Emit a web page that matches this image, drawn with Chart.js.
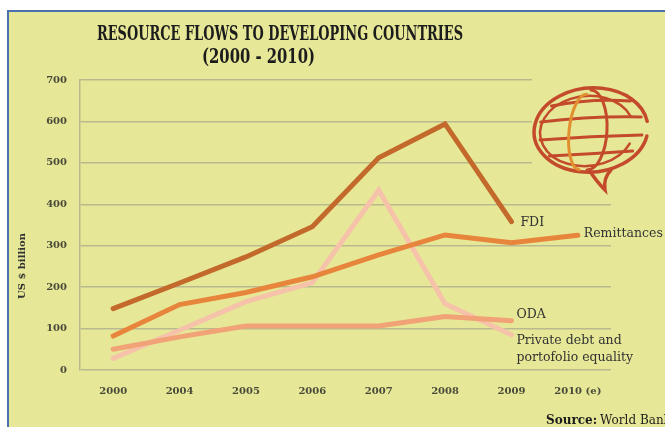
<!DOCTYPE html>
<html>
<head>
<meta charset="utf-8">
<script src="https://cdn.jsdelivr.net/npm/chart.js@4/dist/chart.umd.min.js"></script>
<style>
  html, body { margin: 0; padding: 0; background: #fff; }
  #wrap { width: 665px; height: 427px; }
</style>
</head>
<body>
<div id="wrap"><canvas id="flows"></canvas></div>
<script>
var years = ['2000', '2004', '2005', '2006', '2007', '2008', '2009', '2010 (e)']
var fdi = [148, 210, 273, 346, 512, 594, 358, null]
var remittances = [82, 158, 187, 225, 278, 326, 307, 325]
var oda = [50, 80, 106, 106, 106, 129, 119, null]
var privateDebt = [28, 96, 165, 211, 434, 160, 85, null]
var seriesNames = ['FDI', 'Remittances', 'ODA', 'Private debt and\nportofolio equality']

var bg = '#e6e897'
var gridCol = '#b9b98f'
var serif = '"DejaVu Serif"'

// last non-null point of a dataset, in pixels
function lastPoint(chart, i) {
    var data = chart.data.datasets[i].data
    var k = data.length - 1
    while (data[k] == null) k--
    return {
        x: chart.scales.x.getPixelForValue(k),
        y: chart.scales.y.getPixelForValue(data[k])
    }
}

function squeezedText(ctx, text, x, y, width) {
    var w = ctx.measureText(text).width
    ctx.save()
    ctx.translate(x, y)
    ctx.scale(width / w, 1)
    ctx.textAlign = 'left'
    ctx.fillText(text, 0, 0)
    ctx.restore()
}

const decor = {
    id: 'decor',
    beforeDraw(chart) {
        const ctx = chart.ctx
        ctx.save()
        ctx.fillStyle = '#ffffff'
        ctx.fillRect(0, 0, chart.width, chart.height)
        ctx.fillStyle = bg
        ctx.fillRect(9, 12, chart.width, chart.height)
        ctx.strokeStyle = '#4a70ad'
        ctx.lineWidth = 2
        ctx.beginPath()
        ctx.moveTo(8, chart.height)
        ctx.lineTo(8, 11)
        ctx.lineTo(chart.width, 11)
        ctx.stroke()
        ctx.restore()
    },
    beforeDatasetsDraw(chart) {
        // globe speech-bubble emblem, sits over the upper grid lines
        const ctx = chart.ctx
        ctx.save()
        ctx.fillStyle = bg
        ctx.fillRect(532, 74, 82, 98)
        var cx = 591, cy = 130
        ctx.lineCap = 'round'
        ctx.strokeStyle = '#c44a2c'
        ctx.lineWidth = 3.5
        ctx.beginPath()
        ctx.ellipse(cx, cy, 57, 42, -0.08, 0.25, Math.PI * 2 - 0.1)
        ctx.stroke()
        // bubble tail
        ctx.beginPath()
        ctx.moveTo(cx - 2, cy + 40)
        ctx.quadraticCurveTo(cx + 6, cy + 52, cx + 14, cy + 60)
        ctx.quadraticCurveTo(cx + 12, cy + 48, cx + 20, cy + 40)
        ctx.stroke()
        ctx.lineWidth = 2.5
        ctx.beginPath()
        ctx.ellipse(cx - 4, cy + 1, 47, 35, -0.1, 0.5, Math.PI * 2 - 0.3)
        ctx.stroke()
        // latitude lines
        ctx.lineWidth = 3
        var lats = [-26, -10, 8, 24]
        lats.forEach(function (d, i) {
            var half = Math.sqrt(1 - (d * d) / (40 * 40)) * 52
            ctx.beginPath()
            ctx.moveTo(cx - half, cy + d + 2)
            ctx.quadraticCurveTo(cx, cy + d - 6 + i * 2, cx + half, cy + d - 3)
            ctx.stroke()
        })
        // meridians
        ctx.beginPath()
        ctx.ellipse(cx - 2, cy, 18, 40, 0.05, -Math.PI / 2, Math.PI / 2)
        ctx.stroke()
        ctx.strokeStyle = '#e2902f'
        ctx.beginPath()
        ctx.ellipse(cx - 8, cy + 2, 14, 38, 0.1, Math.PI / 2, Math.PI * 1.5)
        ctx.stroke()
        ctx.restore()
    },
    afterDraw(chart) {
        const ctx = chart.ctx
        ctx.save()
        ctx.fillStyle = '#1c1c1c'
        ctx.textBaseline = 'alphabetic'
        ctx.font = 'bold 21px "DejaVu Serif Condensed"'
        squeezedText(ctx, 'RESOURCE FLOWS TO DEVELOPING COUNTRIES', 97, 40, 366)
        squeezedText(ctx, '(2000 - 2010)', 202, 63, 113)

        // series names next to the end of each line
        ctx.fillStyle = '#333333'
        ctx.font = '12.5px ' + serif
        ctx.textBaseline = 'middle'
        var offs = [[9, 1], [6, -2], [5, -6], [5, 6]]
        seriesNames.forEach(function (name, i) {
            var p = lastPoint(chart, i)
            name.split('\n').forEach(function (line, j) {
                ctx.fillText(line, p.x + offs[i][0], p.y + offs[i][1] + j * 17)
            })
        })

        // axis title
        ctx.fillStyle = '#333333'
        ctx.font = 'bold 10px ' + serif
        ctx.translate(22, 266)
        ctx.rotate(-Math.PI / 2)
        ctx.textAlign = 'center'
        ctx.fillText('US $ billion', 0, 0)
        ctx.restore()

        ctx.save()
        ctx.fillStyle = '#1c1c1c'
        ctx.textBaseline = 'middle'
        ctx.font = 'bold 12px ' + serif
        ctx.fillText('Source:', 546, 421)
        var w = ctx.measureText('Source:').width + 3
        ctx.font = '12px ' + serif
        ctx.fillText('World Bank', 546 + w, 421)
        ctx.restore()
    }
}

function line(label, data, color) {
    return {
        label: label,
        data: data,
        borderColor: color,
        backgroundColor: color,
        borderWidth: 5,
        pointRadius: 0,
        tension: 0,
        borderCapStyle: 'round',
        borderJoinStyle: 'miter',
        fill: false
    }
}

const config = {
    type: 'line',
    data: {
        labels: years,
        datasets: [
            line('FDI', fdi, '#c2692b'),
            line('Remittances', remittances, '#e8853c'),
            line('ODA', oda, '#f1a276'),
            line('Private debt and portofolio equality', privateDebt, '#f6c2aa')
        ]
    },
    options: {
        responsive: false,
        animation: false,
        devicePixelRatio: 1,
        layout: { padding: { top: 80, left: 8, right: 54, bottom: 0 } },
        plugins: {
            legend: { display: false },
            title: { display: false },
            tooltip: { enabled: false }
        },
        scales: {
            x: {
                offset: true,
                grid: { display: false, drawTicks: false },
                border: { display: false },
                ticks: {
                    color: '#4a4a3a',
                    font: { family: 'DejaVu Serif', weight: 'bold', size: 10 },
                    padding: 15,
                    maxRotation: 0,
                    autoSkip: false
                },
                afterFit(scale) { scale.height = 57 }
            },
            y: {
                min: 0,
                max: 700,
                ticks: {
                    stepSize: 100,
                    color: '#4a4a3a',
                    font: { family: 'DejaVu Serif', weight: 'bold', size: 10 },
                    padding: 13
                },
                grid: { color: gridCol, lineWidth: 1.5, drawTicks: false },
                border: { display: true, color: gridCol, width: 1.5 },
                afterFit(scale) { scale.width = 72 }
            }
        }
    },
    plugins: [decor]
}

const canvas = document.getElementById('flows')
canvas.width = 665
canvas.height = 427
new Chart(canvas, config)
</script>
</body>
</html>
